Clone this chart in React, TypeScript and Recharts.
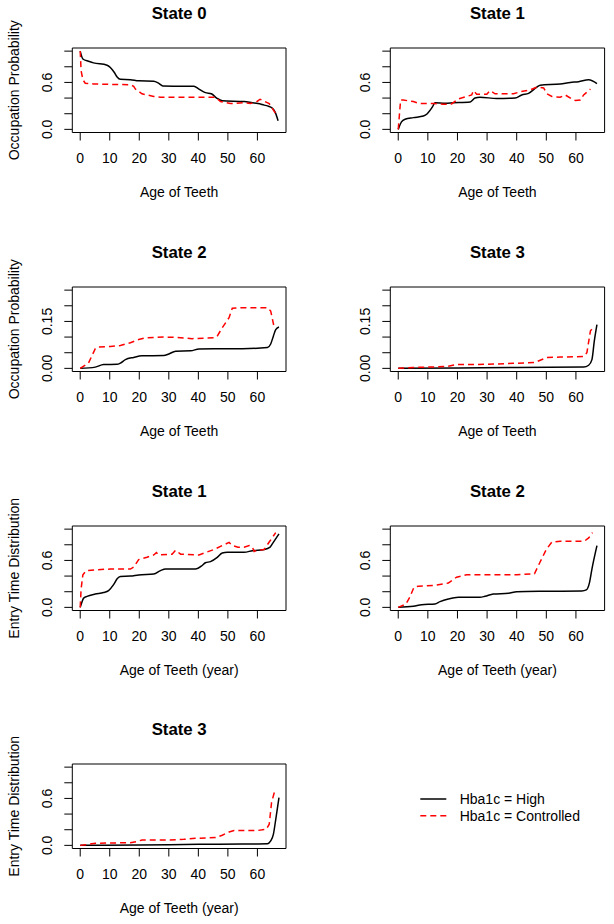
import React from 'react';
import { LineChart, Line, XAxis, YAxis, ReferenceArea, Label } from 'recharts';

const FONT = '"Liberation Sans", Arial, Helvetica, sans-serif';

const xTicks = [0, 10, 20, 30, 40, 50, 60];
const probTicks = [0, 0.2, 0.4, 0.6, 0.8, 1];
const smallTicks = [0, 0.05, 0.1, 0.15, 0.2, 0.25];
const probLabels: Record<string, string> = { '0': '0.0', '0.6': '0.6' };
const smallLabels: Record<string, string> = { '0': '0.00', '0.15': '0.15' };

// occupation probability, state 0
const occ0HighAge = [0, 0.9, 2.8, 4.5, 9.1, 10.2, 11.5, 12.5, 13.6, 17, 19.8, 24.9, 26.5, 28, 38.5, 40.2, 42.4, 44.4, 46.2, 48.1, 55.5, 58.3, 60.2, 62.3, 63.4, 65.1, 66, 67];
const occ0HighVal = [1.0, 0.9, 0.87, 0.85, 0.82, 0.79, 0.73, 0.67, 0.64, 0.635, 0.62, 0.615, 0.59, 0.555, 0.55, 0.515, 0.47, 0.455, 0.4, 0.365, 0.355, 0.34, 0.33, 0.31, 0.3, 0.27, 0.22, 0.11];
const occ0CtrlAge = [0, 0.3, 0.9, 1.7, 4.5, 10.2, 17, 18.1, 18.7, 20.9, 24.9, 27.2, 45.8, 47.5, 50.9, 55.5, 57.7, 60, 60.9, 62.3, 64, 66.2];
const occ0CtrlVal = [1.0, 0.75, 0.635, 0.59, 0.58, 0.575, 0.57, 0.55, 0.515, 0.455, 0.42, 0.41, 0.41, 0.355, 0.33, 0.34, 0.33, 0.36, 0.385, 0.36, 0.33, 0.2];

// occupation probability, state 1
const occ1HighAge = [0, 1.1, 2.3, 5.1, 8.5, 9.8, 11.6, 12.4, 15.8, 18.6, 24.3, 25.9, 27.6, 33.3, 39.5, 41.7, 44, 46.8, 47.9, 54.7, 58.1, 60.9, 64.3, 67.1];
const occ1HighVal = [0, 0.095, 0.13, 0.15, 0.17, 0.2, 0.29, 0.34, 0.335, 0.34, 0.35, 0.4, 0.41, 0.395, 0.4, 0.44, 0.46, 0.54, 0.565, 0.58, 0.6, 0.61, 0.635, 0.585];
const occ1CtrlAge = [0, 0.8, 1.7, 5.1, 7.3, 12.4, 15.2, 18, 20.3, 23.1, 24.8, 25.4, 26.5, 29.9, 31, 32.7, 38.9, 41.2, 44.6, 46.8, 49.1, 50.2, 51.9, 54.7, 56.4, 58.7, 59.8, 61.5, 62.6, 64.9];
const occ1CtrlVal = [0, 0.375, 0.375, 0.355, 0.33, 0.33, 0.32, 0.325, 0.39, 0.42, 0.44, 0.495, 0.45, 0.45, 0.495, 0.455, 0.455, 0.48, 0.505, 0.54, 0.53, 0.455, 0.42, 0.41, 0.44, 0.385, 0.37, 0.375, 0.44, 0.515];

// occupation probability, state 2
const occ2HighAge = [0, 5.1, 7.9, 12.5, 13.6, 15.3, 18.1, 20.9, 28.3, 30, 32.3, 37.4, 40.2, 45.3, 54.9, 63.4, 64.5, 65.4, 66.2, 67.3];
const occ2HighVal = [0, 0.004, 0.012, 0.013, 0.017, 0.028, 0.035, 0.04, 0.041, 0.046, 0.055, 0.056, 0.062, 0.063, 0.063, 0.067, 0.078, 0.103, 0.124, 0.132];
const occ2CtrlAge = [0, 2.8, 5.1, 5.7, 10.2, 13.6, 17, 19.8, 22.1, 28.3, 32.8, 37.9, 45.3, 46.4, 48.1, 50.4, 51.5, 54.9, 63.4, 64.5, 65.7];
const occ2CtrlVal = [0, 0.017, 0.063, 0.068, 0.07, 0.073, 0.082, 0.092, 0.098, 0.1, 0.099, 0.095, 0.098, 0.103, 0.13, 0.162, 0.192, 0.194, 0.194, 0.183, 0.13];

// occupation probability, state 3
const occ3HighAge = [0, 20.3, 40, 62.6, 64.3, 65.4, 66.2, 67.1];
const occ3HighVal = [0, 0.001, 0.003, 0.004, 0.01, 0.028, 0.087, 0.14];
const occ3CtrlAge = [0, 5.1, 10.2, 16.4, 19.7, 29.9, 38.9, 46.2, 50.2, 54.7, 62.6, 63.7, 64.9, 65.8];
const occ3CtrlVal = [0, 0.003, 0.004, 0.006, 0.012, 0.013, 0.016, 0.019, 0.035, 0.036, 0.038, 0.05, 0.12, 0.13];

// entry time distribution, state 1
const ent1HighAge = [0, 0.6, 1.1, 2.3, 5.1, 7.9, 9.6, 11.3, 12.5, 13.6, 17, 19.8, 24.9, 27.2, 28.9, 39, 41.3, 42.4, 44.1, 46.4, 48.1, 49.8, 55.5, 58.3, 62.3, 64.3, 65.1, 67.3];
const ent1HighVal = [0, 0.07, 0.115, 0.14, 0.17, 0.19, 0.215, 0.29, 0.365, 0.395, 0.4, 0.415, 0.425, 0.47, 0.49, 0.49, 0.535, 0.57, 0.585, 0.64, 0.695, 0.705, 0.705, 0.725, 0.74, 0.77, 0.815, 0.94];
const ent1CtrlAge = [0, 0.3, 0.9, 2, 5.1, 10.2, 17, 18.1, 19.8, 22.6, 24.9, 25.8, 26.6, 31.1, 32.3, 34, 40.2, 45.3, 48.7, 50.4, 51.5, 53.4, 55.5, 57.2, 58.3, 58.9, 60, 62.3, 64, 66.2];
const ent1CtrlVal = [0, 0.236, 0.415, 0.47, 0.48, 0.49, 0.49, 0.515, 0.61, 0.64, 0.67, 0.7, 0.67, 0.68, 0.73, 0.68, 0.67, 0.74, 0.8, 0.83, 0.79, 0.77, 0.77, 0.79, 0.77, 0.715, 0.73, 0.74, 0.835, 0.955];

// entry time distribution, state 2
const ent2HighAge = [0, 5.1, 7.9, 12.4, 14.1, 16.9, 20.3, 27.6, 29.3, 32.1, 37.2, 40, 50.2, 62, 63.5, 64.6, 65.4, 67.1];
const ent2HighVal = [0, 0.013, 0.034, 0.043, 0.073, 0.107, 0.129, 0.129, 0.141, 0.171, 0.18, 0.2, 0.206, 0.21, 0.223, 0.32, 0.49, 0.79];
const ent2CtrlAge = [0, 2.6, 3.9, 5.3, 6.8, 11.8, 16.9, 19.7, 23.1, 29.9, 40, 46, 47.9, 50, 51.9, 54.7, 62.8, 64.3, 65.6];
const ent2CtrlVal = [0, 0.043, 0.13, 0.257, 0.27, 0.28, 0.31, 0.386, 0.416, 0.416, 0.416, 0.43, 0.58, 0.74, 0.836, 0.845, 0.845, 0.887, 0.956];

// entry time distribution, state 3
const ent3HighAge = [0, 19.8, 40.2, 54.9, 63.4, 64.5, 65.4, 66.2, 67.3];
const ent3HighVal = [0, 0.004, 0.013, 0.017, 0.021, 0.056, 0.14, 0.33, 0.61];
const ent3CtrlAge = [0, 2.8, 5.1, 10.2, 17, 19.2, 20.9, 30, 35.1, 39, 45.8, 48.1, 50.4, 52.1, 60, 63, 64, 64.8, 65.8];
const ent3CtrlVal = [0, 0.013, 0.026, 0.03, 0.034, 0.05, 0.069, 0.069, 0.077, 0.09, 0.1, 0.13, 0.17, 0.19, 0.19, 0.206, 0.27, 0.55, 0.686];

const pts = (age: number[], val: number[]) => age.map((a, i) => ({ age: a, p: val[i] }));

// layout (R-style 4x2 grid)
const CELL_W = 307;
const CHART_H = 210;
const TOP_PAD = 48;
const PLOT_H = 84.5;
const rowBoxTop = [48.3, 287, 525.5, 764];
const colLeft = [72.3, 83.3];
const colWidth = [213.7, 214.3];
const X_MIN = -2.68;
const X_MAX = 69.68;

const XTick = (props: any) => {
  const { x, y, payload } = props;
  return (
    <text x={x} y={y} textAnchor="middle" dominantBaseline="central" fontSize={14} fontFamily={FONT} fill="#000">
      {payload.value}
    </text>
  );
};

const makeYTick = (labels: Record<string, string>) => (props: any) => {
  const { x, y, payload } = props;
  const lbl = labels[String(payload.value)];
  if (!lbl) return <g />;
  return (
    <text x={x} y={y} transform={`rotate(-90 ${x} ${y})`} textAnchor="middle" dominantBaseline="central"
      fontSize={14} fontFamily={FONT} fill="#000">
      {lbl}
    </text>
  );
};

type PanelProps = {
  title: string;
  row: number;
  col: number;
  ylabel?: string;
  xlabel: string;
  small?: boolean;
  high: { age: number; p: number }[];
  ctrl: { age: number; p: number }[];
};

const Panel = ({ title, row, col, ylabel, xlabel, small, high, ctrl }: PanelProps) => {
  const top = rowBoxTop[row] - TOP_PAD;
  const left = col * CELL_W;
  const plotLeft = colLeft[col];
  const plotW = colWidth[col];
  const yMax = small ? 0.25 : 1;
  const pad = yMax * 0.04;
  const ticks = small ? smallTicks : probTicks;
  const labels = small ? smallLabels : probLabels;
  return (
    <div style={{ position: 'absolute', left, top, width: CELL_W, height: CHART_H }}>
      <div style={{
        position: 'absolute', left: plotLeft, width: plotW, top: TOP_PAD - 44, height: 20, lineHeight: '20px',
        textAlign: 'center', fontFamily: FONT, fontWeight: 'bold', fontSize: 16.8, color: '#000',
      }}>{title}</div>
      <LineChart width={CELL_W} height={CHART_H}
        margin={{ top: TOP_PAD, right: CELL_W - plotLeft - plotW, bottom: 0, left: plotLeft - 30 }}>
        <XAxis dataKey="age" type="number" domain={[X_MIN, X_MAX]} ticks={xTicks} allowDataOverflow
          axisLine={false} tickLine={{ stroke: '#000' }} tickSize={8} tickMargin={17.7}
          height={CHART_H - TOP_PAD - PLOT_H} tick={<XTick />} interval={0}>
          <Label content={(p: any) => {
            const vb = p.viewBox;
            return (
              <text x={vb.x + vb.width / 2} y={vb.y + 59.7} textAnchor="middle" dominantBaseline="central"
                fontSize={14} fontFamily={FONT} fill="#000">{xlabel}</text>
            );
          }} />
        </XAxis>
        <YAxis type="number" domain={[-pad, yMax + pad]} ticks={ticks} allowDataOverflow width={30}
          axisLine={false} tickLine={{ stroke: '#000' }} tickSize={8} tickMargin={17.6}
          tick={makeYTick(labels)} interval={0}>
          {ylabel ? (
            <Label content={(p: any) => {
              const vb = p.viewBox;
              const cx = vb.x + vb.width - 58.5;
              const cy = vb.y + vb.height / 2;
              return (
                <text x={cx} y={cy} transform={`rotate(-90 ${cx} ${cy})`} textAnchor="middle" dominantBaseline="central"
                  fontSize={14} fontFamily={FONT} fill="#000">{ylabel}</text>
              );
            }} />
          ) : null}
        </YAxis>
        <ReferenceArea x1={X_MIN} x2={X_MAX} y1={-pad} y2={yMax + pad} fill="none" fillOpacity={0}
          stroke="#000" strokeWidth={1} ifOverflow="visible" />
        <Line data={high} dataKey="p" type="monotone" stroke="#000" strokeWidth={1.5} dot={false}
          isAnimationActive={false} name="Hba1c = High" />
        <Line data={ctrl} dataKey="p" type="linear" stroke="#ff0000" strokeWidth={1.5} strokeDasharray="6 4"
          dot={false} isAnimationActive={false} name="Hba1c = Controlled" />
      </LineChart>
    </div>
  );
};

const LegendBox = () => (
  <svg style={{ position: 'absolute', left: CELL_W, top: 693 }} width={CELL_W} height={231}>
    <line x1={113.3} x2={139.3} y1={106} y2={106} stroke="#000" strokeWidth={1.5} />
    <line x1={113.3} x2={139.3} y1={122.7} y2={122.7} stroke="#ff0000" strokeWidth={1.5} strokeDasharray="6 4" />
    <text x={152.7} y={106} dominantBaseline="central" fontSize={14} fontFamily={FONT} fill="#000">Hba1c = High</text>
    <text x={152.7} y={122.7} dominantBaseline="central" fontSize={14} fontFamily={FONT} fill="#000">Hba1c = Controlled</text>
  </svg>
);

export default function App() {
  const occ = 'Occupation Probability';
  const ent = 'Entry Time Distribution';
  const age = 'Age of Teeth';
  const ageYr = 'Age of Teeth (year)';
  return (
    <div style={{ position: 'absolute', left: 0, top: 0, width: 614, height: 924, background: '#fff', overflow: 'hidden' }}>
      <Panel title="State 0" row={0} col={0} ylabel={occ} xlabel={age} high={pts(occ0HighAge, occ0HighVal)} ctrl={pts(occ0CtrlAge, occ0CtrlVal)} />
      <Panel title="State 1" row={0} col={1} xlabel={age} high={pts(occ1HighAge, occ1HighVal)} ctrl={pts(occ1CtrlAge, occ1CtrlVal)} />
      <Panel title="State 2" row={1} col={0} ylabel={occ} xlabel={age} small high={pts(occ2HighAge, occ2HighVal)} ctrl={pts(occ2CtrlAge, occ2CtrlVal)} />
      <Panel title="State 3" row={1} col={1} xlabel={age} small high={pts(occ3HighAge, occ3HighVal)} ctrl={pts(occ3CtrlAge, occ3CtrlVal)} />
      <Panel title="State 1" row={2} col={0} ylabel={ent} xlabel={ageYr} high={pts(ent1HighAge, ent1HighVal)} ctrl={pts(ent1CtrlAge, ent1CtrlVal)} />
      <Panel title="State 2" row={2} col={1} xlabel={ageYr} high={pts(ent2HighAge, ent2HighVal)} ctrl={pts(ent2CtrlAge, ent2CtrlVal)} />
      <Panel title="State 3" row={3} col={0} ylabel={ent} xlabel={ageYr} high={pts(ent3HighAge, ent3HighVal)} ctrl={pts(ent3CtrlAge, ent3CtrlVal)} />
      <LegendBox />
    </div>
  );
}
